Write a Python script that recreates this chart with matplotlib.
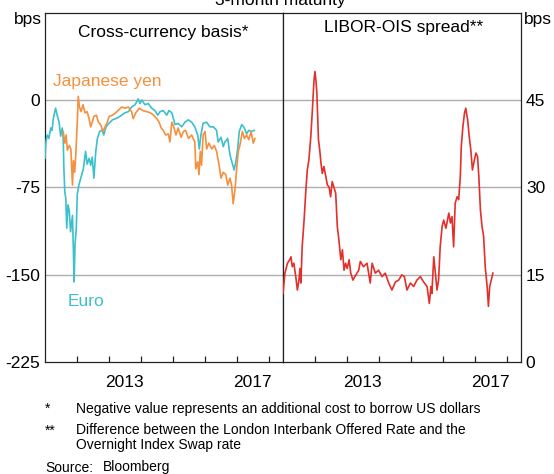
import matplotlib
matplotlib.use("Agg")
import matplotlib.pyplot as plt

plt.rcParams['font.family'] = ['Liberation Sans', 'DejaVu Sans']

#---------------------------------------#
# DATA
#---------------------------------------#

# cross-currency basis, euro (bps)
euro_years = [2011.00, 2011.03, 2011.07, 2011.12, 2011.18, 2011.22, 2011.26, 2011.33, 2011.39, 2011.44,
              2011.49, 2011.54, 2011.57, 2011.59, 2011.62, 2011.65, 2011.68, 2011.72, 2011.76, 2011.80,
              2011.86, 2011.89, 2011.91, 2011.94, 2011.98, 2012.01, 2012.06, 2012.12, 2012.20, 2012.27,
              2012.32, 2012.38, 2012.43, 2012.48, 2012.53, 2012.59, 2012.64, 2012.71, 2012.79, 2012.84,
              2012.91, 2013.00, 2013.11, 2013.21, 2013.29, 2013.40, 2013.50, 2013.61, 2013.71, 2013.82,
              2013.92, 2013.97, 2014.03, 2014.13, 2014.23, 2014.34, 2014.44, 2014.53, 2014.60, 2014.70,
              2014.81, 2014.88, 2014.97, 2015.02, 2015.07, 2015.17, 2015.28, 2015.38, 2015.49, 2015.59,
              2015.69, 2015.78, 2015.83, 2015.88, 2015.95, 2016.06, 2016.16, 2016.27, 2016.37, 2016.42,
              2016.51, 2016.58, 2016.63, 2016.72, 2016.79, 2016.86, 2016.92, 2016.98, 2017.03, 2017.08,
              2017.16, 2017.24, 2017.31, 2017.38, 2017.47, 2017.55]
euro_bps = [-50, -36, -30, -33, -24, -26, -16, -7, -14, -19,
            -31, -24, -33, -58, -79, -84, -110, -90, -95, -113,
            -99, -130, -156, -124, -110, -81, -73, -67, -59, -44,
            -55, -50, -56, -49, -67, -44, -33, -27, -26, -30,
            -23, -20, -17, -16, -15, -13, -11, -10, -6, -4,
            1, -3, 0, -4, -3, -7, -9, -13, -10, -9,
            -13, -9, -11, -16, -21, -20, -23, -19, -17, -19,
            -23, -30, -42, -30, -20, -19, -23, -23, -26, -36,
            -32, -40, -36, -33, -47, -54, -60, -52, -42, -27,
            -21, -24, -29, -26, -27, -26]

# cross-currency basis, Japanese yen (bps)
yen_years = [2011.57, 2011.62, 2011.66, 2011.70, 2011.76, 2011.81, 2011.86, 2011.89, 2011.93, 2011.97,
             2012.01, 2012.04, 2012.08, 2012.13, 2012.19, 2012.25, 2012.32, 2012.38, 2012.43, 2012.48,
             2012.53, 2012.61, 2012.67, 2012.74, 2012.81, 2012.88, 2012.95, 2013.01, 2013.11, 2013.21,
             2013.29, 2013.40, 2013.50, 2013.61, 2013.71, 2013.76, 2013.84, 2013.95, 2014.06, 2014.19,
             2014.30, 2014.40, 2014.50, 2014.57, 2014.64, 2014.70, 2014.78, 2014.86, 2014.91, 2014.97,
             2015.03, 2015.10, 2015.17, 2015.26, 2015.33, 2015.40, 2015.49, 2015.59, 2015.69, 2015.72,
             2015.78, 2015.82, 2015.86, 2015.90, 2015.95, 2016.01, 2016.06, 2016.13, 2016.22, 2016.30,
             2016.37, 2016.45, 2016.51, 2016.58, 2016.66, 2016.72, 2016.79, 2016.84, 2016.89, 2016.95,
             2017.00, 2017.05, 2017.10, 2017.18, 2017.24, 2017.31, 2017.38, 2017.45, 2017.52, 2017.57]
yen_bps = [-27, -37, -30, -43, -39, -42, -73, -52, -62, -44,
           -19, 3, -6, -10, -4, -11, -10, -16, -23, -19,
           -14, -13, -19, -21, -27, -23, -19, -14, -13, -11,
           -9, -6, -7, -6, -10, -16, -11, -7, -9, -10,
           -11, -13, -16, -19, -24, -26, -30, -29, -36, -19,
           -23, -30, -24, -32, -27, -26, -33, -30, -36, -59,
           -53, -64, -44, -56, -30, -27, -42, -37, -42, -39,
           -44, -56, -67, -62, -64, -73, -67, -73, -89, -76,
           -59, -44, -39, -27, -33, -30, -34, -27, -37, -33]

# LIBOR-OIS spread (bps)
libor_years = [2011.00, 2011.06, 2011.14, 2011.21, 2011.25, 2011.29, 2011.34, 2011.40, 2011.45, 2011.50,
               2011.53, 2011.56, 2011.60, 2011.66, 2011.71, 2011.76, 2011.81, 2011.87, 2011.92, 2011.97,
               2012.00, 2012.03, 2012.06, 2012.11, 2012.15, 2012.19, 2012.23, 2012.28, 2012.34, 2012.39,
               2012.44, 2012.49, 2012.54, 2012.60, 2012.65, 2012.70, 2012.75, 2012.81, 2012.86, 2012.91,
               2012.96, 2013.01, 2013.07, 2013.12, 2013.19, 2013.25, 2013.37, 2013.42, 2013.52, 2013.63,
               2013.73, 2013.79, 2013.89, 2013.99, 2014.10, 2014.20, 2014.31, 2014.41, 2014.52, 2014.62,
               2014.72, 2014.80, 2014.88, 2014.99, 2015.09, 2015.19, 2015.30, 2015.40, 2015.51, 2015.58,
               2015.63, 2015.66, 2015.72, 2015.77, 2015.82, 2015.87, 2015.92, 2015.98, 2016.03, 2016.10,
               2016.19, 2016.24, 2016.29, 2016.34, 2016.39, 2016.45, 2016.50, 2016.55, 2016.58, 2016.63,
               2016.68, 2016.72, 2016.78, 2016.83, 2016.88, 2016.93, 2016.99, 2017.04, 2017.09, 2017.13,
               2017.18, 2017.23, 2017.28, 2017.33, 2017.39, 2017.43, 2017.47, 2017.52, 2017.57]
libor_bps = [11.8, 15.3, 17.0, 17.6, 18.1, 16.4, 17.0, 14.7, 12.4, 14.1,
             16.1, 13.6, 19.8, 24.4, 29.0, 33.0, 34.7, 38.7, 43.3, 48.4,
             49.9, 48.4, 46.2, 38.2, 36.4, 34.1, 32.4, 33.6, 31.9, 30.4,
             30.1, 28.4, 31.0, 29.9, 29.0, 23.3, 21.0, 17.6, 19.3, 15.8,
             17.0, 16.1, 17.6, 15.3, 14.1, 14.7, 15.8, 17.3, 16.4, 17.0,
             13.6, 17.0, 15.3, 15.8, 14.7, 15.3, 13.6, 12.4, 13.8, 14.1,
             15.0, 14.7, 12.4, 13.6, 13.0, 14.1, 14.7, 13.8, 13.0, 10.1,
             13.0, 11.8, 18.1, 15.3, 12.4, 14.1, 19.8, 23.3, 24.4, 23.0,
             25.6, 23.9, 25.0, 19.8, 27.3, 28.4, 27.9, 31.9, 37.0, 40.4,
             42.7, 43.6, 41.6, 38.7, 36.4, 33.0, 34.7, 35.9, 35.3, 31.9,
             26.1, 23.3, 21.6, 16.4, 13.0, 9.6, 13.0, 14.1, 15.3]

left_ticks = [-225, -150, -75, 0]
right_ticks = [0, 15, 30, 45]
year_ticks = [2012, 2013, 2014, 2015, 2016, 2017, 2018]
year_labels = ['2013', '2017']

#---------------------------------------#
# LAYOUT HELPERS
#---------------------------------------#

W, H = 554, 474
ORANGE = '#f5903f'
TEAL = '#3cc0cb'
RED = '#e2302b'
GRID = '#adadad'
FS = 12.5

def fx(px):
    return px / W

def fy(py):
    return 1 - py / H

# set up one panel with the shared styling
def style_panel(ax, ylim, grid_vals):
    ax.set_xlim(2011.0, 2018.45)
    ax.set_ylim(*ylim)
    for v in grid_vals:
        ax.axhline(v, color=GRID, lw=1.0, zorder=1)
    for s in ax.spines.values():
        s.set_color('#222222')
        s.set_linewidth(0.9)
    ax.set_xticks(year_ticks)
    ax.set_xticklabels([])
    ax.set_xticks([int(y) + 0.5 for y in year_labels], minor=True)
    ax.set_xticklabels(year_labels, minor=True, fontsize=FS)
    ax.tick_params(axis='x', which='major', direction='in', length=4, width=0.9, color='#222222')
    ax.tick_params(axis='x', which='minor', length=0, pad=9)
    ax.tick_params(axis='y', length=0, labelsize=FS, pad=3.5)


fig = plt.figure(figsize=(W / 100, H / 100), dpi=100)
bottom = fy(362.3)
height = (362.3 - 12.6) / H
ax1 = fig.add_axes([fx(45), bottom, fx(283) - fx(45), height])
ax2 = fig.add_axes([fx(283), bottom, fx(521) - fx(283), height])

# left panel: cross-currency basis
style_panel(ax1, (-225, 75), [-150, -75, 0])
ax1.plot(euro_years, euro_bps, color=TEAL, lw=1.2, zorder=3)
ax1.plot(yen_years, yen_bps, color=ORANGE, lw=1.2, zorder=3)
ax1.set_yticks(left_ticks)
ax1.set_yticklabels([str(t) for t in left_ticks])

# right panel: LIBOR-OIS spread
style_panel(ax2, (0, 60), [15, 30, 45])
ax2.plot(libor_years, libor_bps, color=RED, lw=1.2, zorder=3)
ax2.set_yticks(right_ticks)
ax2.yaxis.tick_right()
ax2.set_yticklabels([str(t) for t in right_ticks])

# titles and labels
fig.text(fx(280), fy(5), '3-month maturity', ha='center', va='baseline', fontsize=FS)
fig.text(fx(41.5), fy(24), 'bps', ha='right', va='baseline', fontsize=FS)
fig.text(fx(524), fy(24), 'bps', ha='left', va='baseline', fontsize=FS)
fig.text(fx(163.5), fy(36.5), 'Cross-currency basis*', ha='center', va='baseline', fontsize=FS)
fig.text(fx(404), fy(32), 'LIBOR-OIS spread**', ha='center', va='baseline', fontsize=FS)
fig.text(fx(53), fy(86), 'Japanese yen', color=ORANGE, ha='left', va='baseline', fontsize=FS)
fig.text(fx(68), fy(306.5), 'Euro', color=TEAL, ha='left', va='baseline', fontsize=FS)

# footnotes
NF = 10
fig.text(fx(45), fy(413), '*', ha='left', va='baseline', fontsize=NF)
fig.text(fx(76), fy(413), 'Negative value represents an additional cost to borrow US dollars',
         ha='left', va='baseline', fontsize=NF)
fig.text(fx(45), fy(434.5), '**', ha='left', va='baseline', fontsize=NF)
fig.text(fx(76), fy(434.5), 'Difference between the London Interbank Offered Rate and the',
         ha='left', va='baseline', fontsize=NF)
fig.text(fx(76), fy(449.5), 'Overnight Index Swap rate', ha='left', va='baseline', fontsize=NF)
fig.text(fx(45), fy(471.5), 'Source:', ha='left', va='baseline', fontsize=NF)
fig.text(fx(103), fy(471.5), 'Bloomberg', ha='left', va='baseline', fontsize=NF)

fig.savefig('out.png', dpi=100)
